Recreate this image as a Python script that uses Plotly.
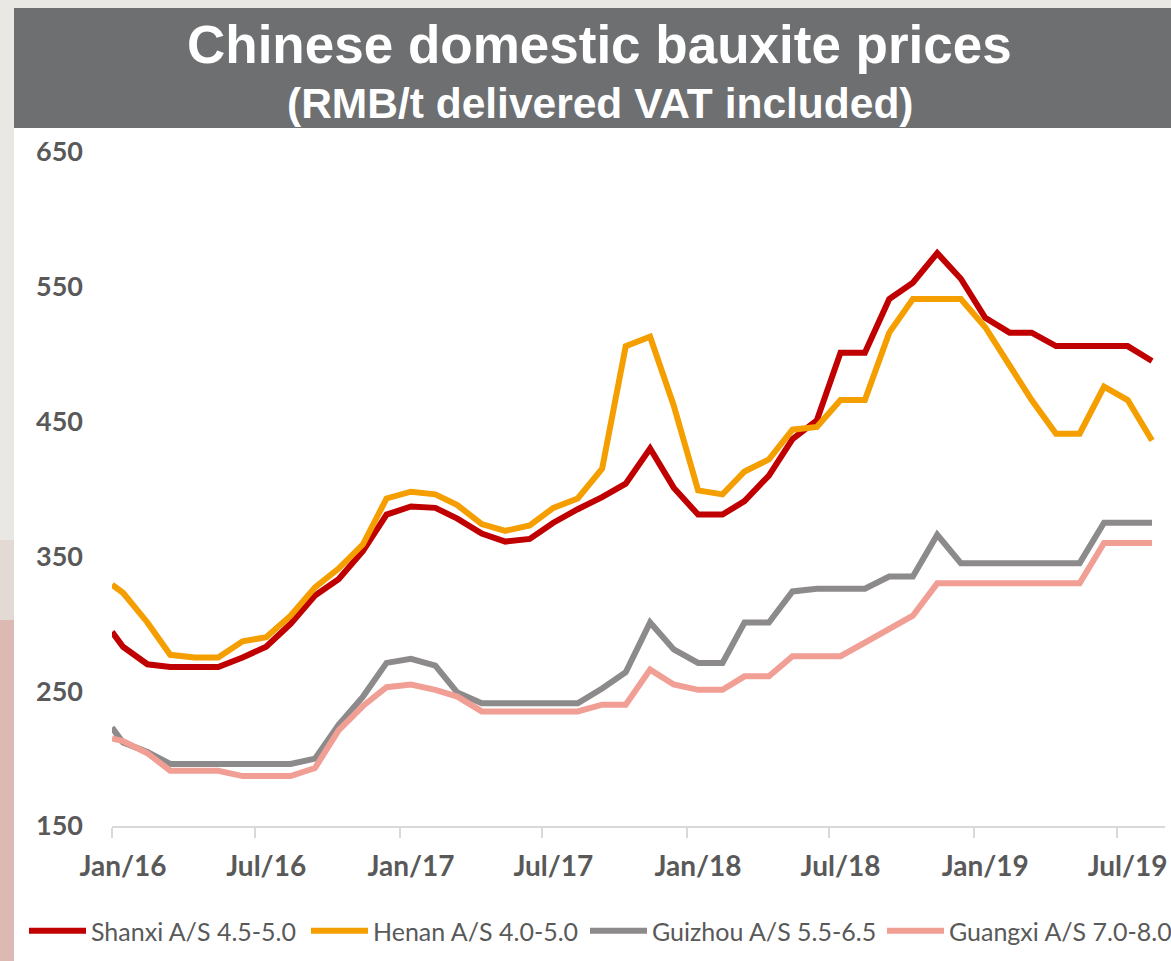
import pandas as pd
import plotly.graph_objects as go

# first reading is at the start of Jan 2016, then mid-month readings Jan/16 .. Aug/19
dates = [pd.Timestamp("2016-01-01")] + list(pd.date_range("2016-01-01", periods=44, freq="MS") + pd.Timedelta(days=14))

shanxi = [294, 283, 270, 268, 268, 268, 275, 283, 300, 321,
          333, 354, 381, 387, 386, 378, 367, 361, 363, 375,
          385, 394, 404, 430, 401, 381, 381, 391, 410, 437,
          451, 501, 501, 541, 553, 575, 556, 527, 516, 516,
          506, 506, 506, 506, 495]
henan = [329, 323, 301, 277, 275, 275, 287, 290, 306, 327,
         341, 359, 393, 398, 396, 388, 374, 369, 373, 386,
         393, 415, 506, 513, 462, 399, 396, 413, 422, 444,
         446, 466, 466, 516, 541, 541, 541, 520, 491, 466,
         441, 441, 476, 466, 436]
guizhou = [223, 212, 205, 196, 196, 196, 196, 196, 196, 200,
           225, 246, 271, 274, 269, 249, 241, 241, 241, 241,
           241, 252, 264, 301, 281, 271, 271, 301, 301, 324,
           326, 326, 326, 335, 335, 366, 345, 345, 345, 345,
           345, 345, 375, 375, 375]
guangxi = [215, 213, 204, 191, 191, 191, 187, 187, 187, 193,
           221, 239, 253, 255, 251, 246, 235, 235, 235, 235,
           235, 240, 240, 266, 255, 251, 251, 261, 261, 276,
           276, 276, 286, 296, 306, 330, 330, 330, 330, 330,
           330, 330, 360, 360, 360]

series = [
    ("Shanxi A/S 4.5-5.0", shanxi, "#c00000"),
    ("Henan A/S 4.0-5.0", henan, "#f59e00"),
    ("Guizhou A/S 5.5-6.5", guizhou, "#8c8a8a"),
    ("Guangxi A/S 7.0-8.0", guangxi, "#f19e94"),
]

TXT = "#595959"

# plot area: x 112..1165, y 152..826 px
W, H = 1171, 961
L, R, T, B = 112, 6, 152, 135
pw, ph = W - L - R, H - T - B


def px(x):
    return (x - L) / pw


def py(y):
    return (H - B - y) / ph


legend_names = ["legend", "legend2", "legend3", "legend4"]
legend_x = [24, 306, 585, 882]

fig = go.Figure()
for (name, vals, color), lg in zip(series, legend_names):
    fig.add_trace(go.Scatter(
        x=dates, y=vals, name=name, mode="lines",
        line=dict(color=color, width=6),
        legend=lg,
    ))

legends = {}
for lg, lx in zip(legend_names, legend_x):
    legends[lg] = dict(
        orientation="h", x=px(lx), y=py(931), xanchor="left", yanchor="middle",
        font=dict(family="Lato", size=25, color=TXT),
        bgcolor="rgba(0,0,0,0)", itemwidth=57,
    )

shapes = [
    dict(type="rect", xref="paper", yref="paper", x0=px(14), x1=px(1180), y0=py(975), y1=py(128),
         fillcolor="white", line_width=0, layer="below"),
    dict(type="rect", xref="paper", yref="paper", x0=px(14), x1=px(1180), y0=py(128), y1=py(8),
         fillcolor="#6e6f71", line_width=0, layer="below"),
    dict(type="rect", xref="paper", yref="paper", x0=px(-5), x1=px(14), y0=py(620), y1=py(540),
         fillcolor="#e3d9d5", line_width=0, layer="below"),
    dict(type="rect", xref="paper", yref="paper", x0=px(-5), x1=px(14), y0=py(975), y1=py(620),
         fillcolor="#dcbab3", line_width=0, layer="below"),
]

annotations = [
    dict(text="<b>Chinese domestic bauxite prices</b>", xref="paper", yref="paper",
         x=px(599), y=py(45), xanchor="center", yanchor="middle", showarrow=False,
         font=dict(family="Liberation Sans", size=53, color="white")),
    dict(text="<b>(RMB/t delivered VAT included)</b>", xref="paper", yref="paper",
         x=px(600), y=py(103), xanchor="center", yanchor="middle", showarrow=False,
         font=dict(family="Liberation Sans", size=42.5, color="white")),
]

fig.update_layout(
    width=W, height=H,
    margin=dict(l=L, r=R, t=T, b=B, autoexpand=False),
    paper_bgcolor="#e9e8e4",
    plot_bgcolor="white",
    font=dict(family="Lato", color=TXT),
    shapes=shapes,
    annotations=annotations,
    showlegend=True,
    **legends,
    xaxis=dict(
        type="date",
        range=["2016-01-01", "2019-08-31 12:00"],
        tick0="2016-01-01", dtick="M6", tickformat="%b/%y",
        showgrid=False, zeroline=False, automargin=False,
        showline=True, linecolor="#d9d9d9", linewidth=2,
        ticks="outside", ticklen=10, tickcolor="#d9d9d9", tickwidth=2,
        tickfont=dict(family="Lato", size=28, color=TXT, weight="bold"),
        ticklabelstandoff=4, ticklabelshift=11,
    ),
    yaxis=dict(
        range=[150, 650], tick0=150, dtick=100,
        showgrid=False, zeroline=False, showline=False, automargin=False,
        tickfont=dict(family="Lato", size=27, color=TXT, weight="bold"),
        ticklabelstandoff=28,
    ),
)

fig.write_html("out.html", config={"displayModeBar": False},
               post_script="document.body.style.margin='0px';")
